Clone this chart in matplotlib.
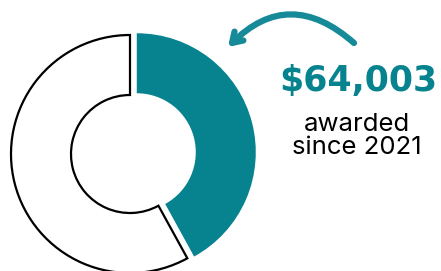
import matplotlib.pyplot as plt

# share of the total awarded
labels = ["awarded", "remaining"]
values = [42, 58]
colors = ["#06838f", "white"]
explode = [7, 0]

amount = "$64,003"
caption = "awarded\nsince 2021"

teal = "#06838f"

fig = plt.figure(figsize=(4.41, 2.71), dpi=100)
ax = fig.add_axes([0, 0, 1, 1])

wedges, _ = ax.pie(values, colors=colors, explode=explode, startangle=90,
                   counterclock=False, center=(130, 117), radius=119,
                   wedgeprops=dict(width=60, linewidth=1.6))
wedges[0].set_edgecolor(teal)
wedges[0].set_linewidth(0)
wedges[1].set_edgecolor("black")

ax.set_xlim(0, 441)
ax.set_ylim(0, 271)
ax.set_aspect("equal")
ax.axis("off")

ax.text(358, 190, amount, color=teal, fontsize=25, fontweight="bold",
        family="DejaVu Sans", ha="center", va="center")
ax.text(357, 135, caption, color="black", fontsize=18.5, family="Inter",
        ha="center", va="center", linespacing=1.05)

ax.annotate("", xy=(228, 224), xytext=(354, 228),
            arrowprops=dict(arrowstyle="->,head_length=0.7,head_width=0.45",
                            color="#168a98", lw=4.5,
                            connectionstyle="arc3,rad=0.47",
                            shrinkA=0, shrinkB=0))

fig.savefig("out.png", dpi=100)
